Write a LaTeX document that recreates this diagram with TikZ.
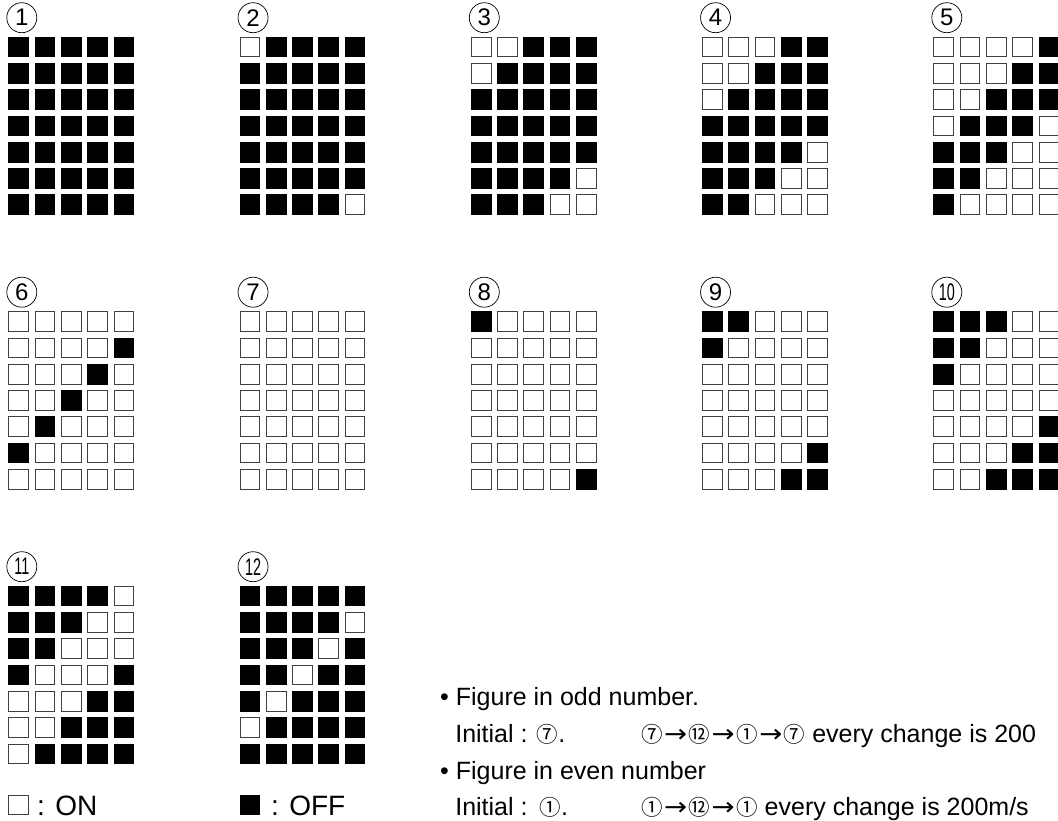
\documentclass[tikz,border=0pt]{standalone}
\usepackage{fontspec}
\setmainfont{Liberation Sans}
\newfontfamily\cjkfont[Scale=0.86]{Noto Sans CJK JP}
\newfontfamily\arrfont{DejaVu Sans}
\newcommand\seqarrow{\hspace{1.5pt}{\arrfont\scalebox{1.1}[1]{→}}\hspace{1.5pt}}
\usepackage{tikz}
\usetikzlibrary{positioning}

\begin{document}
\begin{tikzpicture}[
  x=1pt,y=-1pt,
  cellon/.style={rectangle,draw=black!75,line width=1pt,fill=white,minimum size=19.7pt,inner sep=0pt},
  celloff/.style={cellon,draw=black,fill=black},
  numlbl/.style={circle,draw,line width=0.7pt,minimum size=30pt,inner sep=0pt,font=\fontsize{24}{24}\selectfont},
  note/.style={anchor=base west,inner sep=0pt,font=\fontsize{25}{28}\selectfont},
  keytxt/.style={anchor=base west,inner sep=0pt,font=\fontsize{28}{30}\selectfont}
]
\useasboundingbox (0,0) rectangle (1058,821);
% twelve patterns of 5x7 cells
\foreach \n in {1,...,12} {
  \pgfmathsetmacro\gx{8.3+231.25*mod(\n-1,5)}
  \pgfmathsetmacro\gy{36.7+274.5*floor((\n-1)/5)}
  \pgfmathtruncatemacro\m{\n<7 ? \n : \n-6}
  \node[numlbl] (lbl\n) at ({\gx+13.5},{\gy-19}) {\ifnum\n>9 \scalebox{0.6}[1]{\n}\else\n\fi};
  \foreach \r in {1,...,7} {
    \foreach \c in {1,...,5} {
      \pgfmathtruncatemacro\dark{(\r+\c>\m)*(\r+\c<14-\m)}
      \pgfmathtruncatemacro\dark{\n<7 ? \dark : 1-\dark}
      \pgfmathsetmacro\px{\gx+10.35+26.3*(\c-1)}
      \pgfmathsetmacro\py{\gy+10.35+26.3*(\r-1)}
      \ifnum\dark=1
        \node[celloff] (cell\n-\r-\c) at (\px,\py) {};
      \else
        \node[cellon] (cell\n-\r-\c) at (\px,\py) {};
      \fi
    }
  }
}
% key
\node[cellon] (keyon) at (18.3,805) {};
\node[keytxt] (keyontxt) at (37,815) {: ON};
\node[celloff] (keyoff) at (250,805) {};
\node[keytxt] (keyofftxt) at (271,815) {: OFF};
% notes
\node[note] (odd) at (440,705) {• Figure in odd number.};
\node[note] (oddinit) at (455.1,742) {Initial : {\cjkfont ⑦}.};
\node[note] (oddseq) at (641,742) {{\cjkfont ⑦}\seqarrow{\cjkfont ⑫}\seqarrow{\cjkfont ①}\seqarrow{\cjkfont ⑦} every change is 200};
\node[note] (even) at (440,779) {• Figure in even number};
\node[note] (eveninit) at (455.1,815.5) {Initial :\hspace{12pt}{\cjkfont ①}.};
\node[note] (evenseq) at (641,815.5) {{\cjkfont ①}\seqarrow{\cjkfont ⑫}\seqarrow{\cjkfont ①} every change is 200m/s};
\end{tikzpicture}
\end{document}
